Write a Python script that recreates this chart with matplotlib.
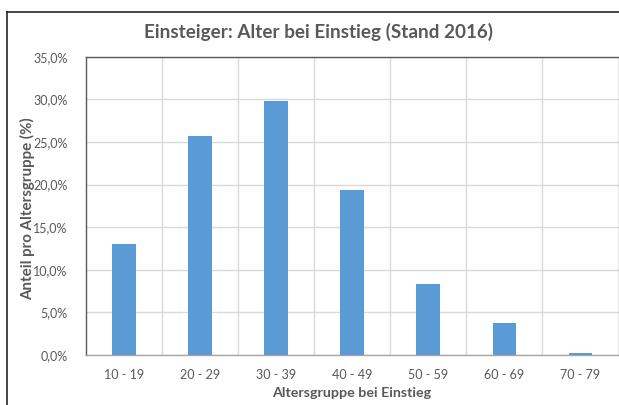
import matplotlib
matplotlib.use("Agg")
import matplotlib.pyplot as plt
from matplotlib.lines import Line2D
from matplotlib.ticker import FuncFormatter, MultipleLocator

plt.rcParams['font.family'] = ['Lato', 'DejaVu Sans']

# Altersgruppen und Anteile (%)
age_groups = ['10 - 19', '20 - 29', '30 - 39', '40 - 49', '50 - 59', '60 - 69', '70 - 79']
shares = [13.0, 25.7, 29.8, 19.4, 8.3, 3.7, 0.2]

text_col = '#595959'
bar_col = '#5B9BD5'
grid_col = '#D9D9D9'

fig = plt.figure(figsize=(6.19, 4.05), dpi=100)
ax = fig.add_axes([85.7 / 619, 1 - 355 / 405, (618.5 - 85.7) / 619, (355 - 56.7) / 405])

x = list(range(len(age_groups)))
ax.bar(x, shares, width=0.31, color=bar_col, zorder=3)

ax.set_xlim(-0.5, len(age_groups) - 0.5)
ax.set_ylim(0, 35)
ax.yaxis.set_major_locator(MultipleLocator(5))
ax.yaxis.set_major_formatter(FuncFormatter(lambda v, p: f'{v:.1f}%'.replace('.', ',')))
ax.set_xticks(x)
ax.set_xticklabels(age_groups)

# vertikale Gitterlinien zwischen den Kategorien
ax.set_xticks([i + 0.5 for i in x[:-1]], minor=True)
ax.grid(axis='y', which='major', color=grid_col, lw=1, zorder=0)
ax.grid(axis='x', which='minor', color=grid_col, lw=1, zorder=0)
ax.tick_params(which='both', length=0)
ax.tick_params(axis='y', pad=13, labelsize=9, labelcolor=text_col)
ax.tick_params(axis='x', pad=10, labelsize=9, labelcolor=text_col)

for s in ['left', 'top']:
    ax.spines[s].set_color('#595959')
ax.spines['bottom'].set_color('#A6A6A6')
ax.spines['right'].set_color('#8C8C8C')
for s in ax.spines.values():
    s.set_linewidth(1)

# Achsentitel und Titel frei platziert (Pixel von oben links)
xl = fig.text(352 / 619, 1 - 393 / 405, 'Altersgruppe bei Einstieg', ha='center', va='center',
              fontsize=9, fontweight='bold', color=text_col)
yl = fig.text(28 / 619, 1 - 208.5 / 405, 'Anteil pro Altersgruppe (%)', ha='center', va='center',
              rotation=90, fontsize=9, fontweight='bold', color=text_col)
tl = fig.text(318 / 619, 1 - 32 / 405, 'Einsteiger: Alter bei Einstieg (Stand 2016)',
              ha='center', va='center', fontsize=13.6, fontweight='bold', color=text_col)

# Schriftgröße an die Breite im Original anpassen
r = fig.canvas.get_renderer()
for t, target, vertical in [(xl, 159, False), (yl, 183, True), (tl, 350, False)]:
    bb = t.get_window_extent(r)
    size = bb.height if vertical else bb.width
    t.set_fontsize(t.get_fontsize() * target / size)

# äußerer Rahmen
fx = 7.3 / 619
fy = 1 - 11.7 / 405
fig.add_artist(Line2D([fx, fx], [0, fy], color='#262626', lw=1.2))
fig.add_artist(Line2D([fx, 1], [fy, fy], color='#262626', lw=1.2))

fig.savefig('out.png', dpi=100)
